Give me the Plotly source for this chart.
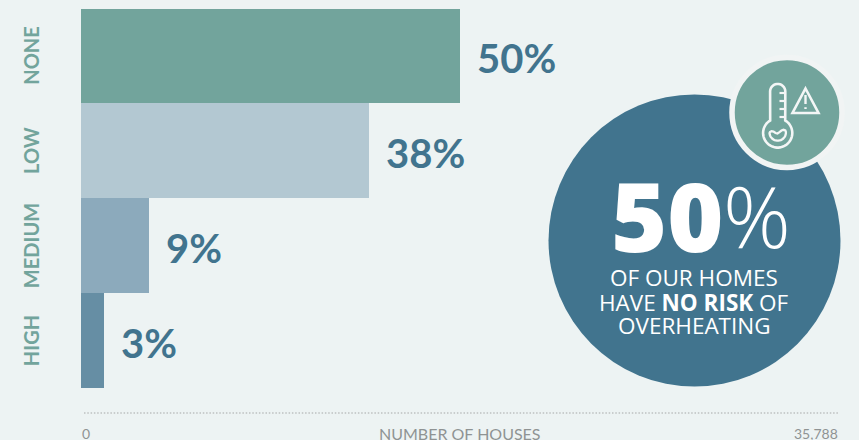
import numpy as np
import plotly.graph_objects as go

categories = ["NONE", "LOW", "MEDIUM", "HIGH"]
shares = [50, 38, 9, 3]
share_labels = ["50%", "38%", "9%", "3%"]
bar_colors = ["#72a49c", "#b3c8d2", "#8caabc", "#668ea4"]
axis_start = "0"
axis_title = "NUMBER OF HOUSES"
axis_end = "35,788"
callout_figure = "50"
callout_lines = ["OF OUR HOMES", "HAVE <b>NO RISK</b> OF", "OVERHEATING"]

W, H = 859, 440
LEFT, RIGHT, TOP, BOTTOM = 81, 839, 9, 388
ROW_PX = 95
TEAL, BLUE, PALE = "#72a49c", "#41748e", "#edf3f3"
SANS = "Open Sans, sans-serif"
GEO = "Lato, sans-serif"


def px(x):
    return (x - LEFT) / (RIGHT - LEFT)


def py(y):
    return (BOTTOM - y) / (BOTTOM - TOP)


def path(points, close=False):
    d = "M" + " L".join(f"{px(x):.5f},{py(y):.5f}" for x, y in points)
    return d + (" Z" if close else "")


def arc(cx, cy, r, a0, a1, n=40):
    t = np.radians(np.linspace(a0, a1, n))
    return [(cx + r * np.cos(a), cy + r * np.sin(a)) for a in t]


def disc(cx, cy, r, fill, line=None, width=0):
    return dict(type="circle", xref="paper", yref="paper",
                x0=px(cx - r), x1=px(cx + r), y0=py(cy + r), y1=py(cy - r),
                fillcolor=fill, line=dict(color=line or fill, width=width), layer="above")


def stroke(points, close=False, width=2.6):
    return dict(type="path", xref="paper", yref="paper", path=path(points, close),
                line=dict(color="#f4f6f6", width=width), layer="above")


fig = go.Figure(go.Bar(
    y=categories, x=shares, orientation="h", width=1,
    marker=dict(color=bar_colors, line_width=0), showlegend=False,
))

shapes = [
    dict(type="line", xref="paper", yref="paper", x0=px(84), x1=px(838), y0=py(413), y1=py(413),
         line=dict(color="#c9cdcd", width=2, dash="1.5px,1.8px")),
    disc(694.5, 240.5, 146, BLUE),
    disc(787, 112.5, 55, TEAL, "#f1f4f4", 5.5),
]

# Thermometer outline: tube, bulb and the scale ticks
cx_tube, half = 777.7, 7.6
outline = arc(cx_tube, 91.5, half, 180, 360, 16)
outline += arc(cx_tube, 133, 14.6, -59, 239, 50)
shapes.append(stroke(outline, close=True))
for tick_y in (93, 101, 109, 117):
    shapes.append(stroke([(779.5, tick_y), (785, tick_y)], width=2.2))

# Liquid in the bulb, with a wavy surface
shapes.append(stroke(arc(777.7, 132.5, 8.2, 5, 175, 20) + [
    (770, 132), (771.5, 131.2), (773.5, 131.6), (775.5, 133), (777.5, 133.5), (779.5, 132.2),
    (781.5, 130.5), (783.5, 129.8), (785.3, 130.5), (785.9, 132),
], close=True, width=2.3))

# Warning triangle with its exclamation mark
shapes.append(stroke([(805.5, 88.5), (818.5, 113), (792.5, 113)], close=True))
shapes.append(stroke([(805.5, 95), (805.5, 104)], width=2.4))
shapes.append(stroke([(805.5, 107.2), (805.5, 109)], width=2.4))

annotations = []
for cat, share, label in zip(categories, shares, share_labels):
    annotations.append(dict(x=share, y=cat, xref="x", yref="y", text=label, showarrow=False,
                            xanchor="left", xshift=15, yshift=-2.5,
                            font=dict(family=GEO, size=40, color=BLUE, weight=700)))


def note(x, y, text, size, color="#ffffff", anchor="center", family=SANS, weight=400):
    annotations.append(dict(x=px(x), y=py(y), xref="paper", yref="paper", text=text, showarrow=False,
                            xanchor=anchor, yanchor="middle", borderpad=0,
                            font=dict(family=family, size=size, color=color, weight=weight)))


note(667.5, 214, callout_figure, 96, weight=800)
note(757, 215, "%", 84, weight=300)
for line_y, line in zip((277, 302, 325), callout_lines):
    note(694, line_y, line, 22.5)

note(80.5, 433, axis_start, 14, "#8f9393", "left", GEO)
note(460, 433, axis_title, 16, "#8f9393", "center", GEO)
note(839, 433, axis_end, 14, "#8f9393", "right", GEO)

fig.update_layout(
    width=W, height=H, autosize=False,
    margin=dict(l=LEFT, r=W - RIGHT, t=TOP, b=H - BOTTOM, pad=0),
    paper_bgcolor=PALE, plot_bgcolor=PALE, bargap=0,
    shapes=shapes, annotations=annotations,
    xaxis=dict(range=[0, 100], visible=False, fixedrange=True),
    # Rows are a whole number of pixels tall; the top row is trimmed by the plot edge
    yaxis=dict(categoryorder="array", categoryarray=categories,
               range=[3.5, 3.5 - (BOTTOM - TOP) / ROW_PX],
               tickangle=-90, showline=False, showgrid=False, zeroline=False,
               ticks="outside", ticklen=33, tickcolor="rgba(0,0,0,0)", ticklabelshift=-3,
               tickfont=dict(family=GEO, size=20, color=TEAL, weight=700)),
)

fig.write_html("out.html", config=dict(displayModeBar=False))
